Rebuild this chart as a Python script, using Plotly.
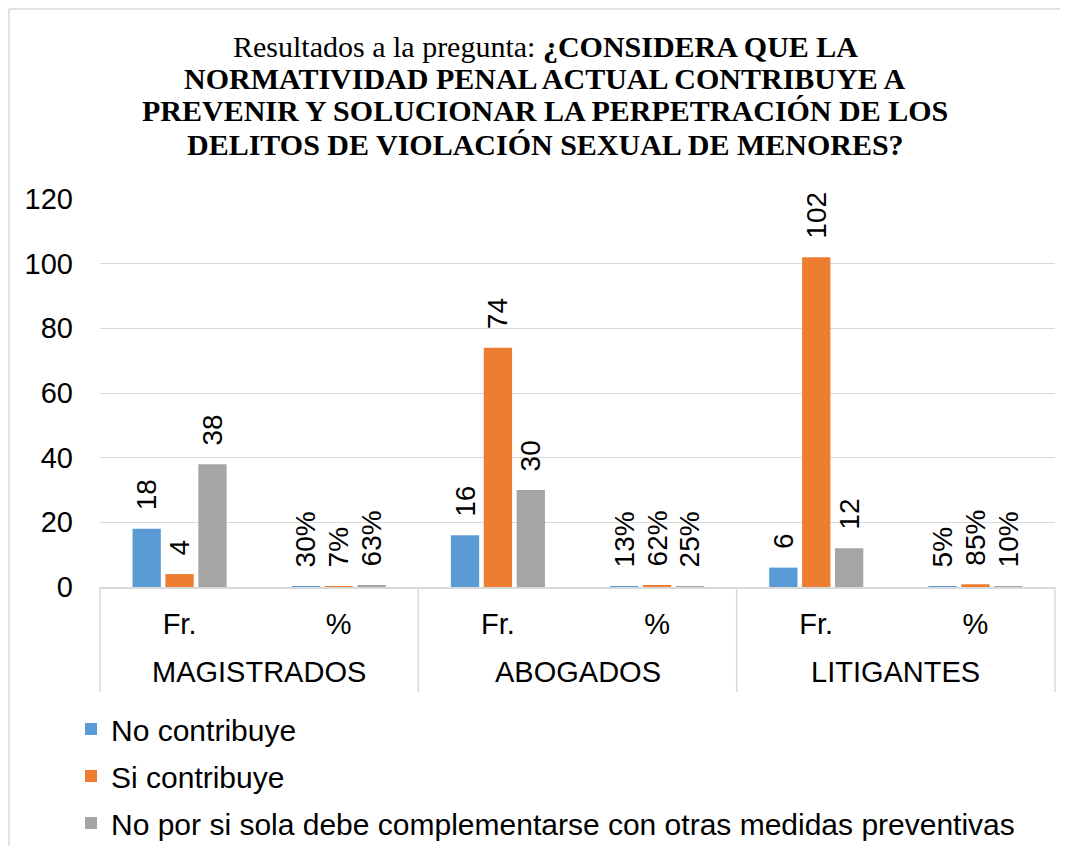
import plotly.graph_objects as go

groups = ["MAGISTRADOS", "MAGISTRADOS", "ABOGADOS", "ABOGADOS", "LITIGANTES", "LITIGANTES"]
subcats = ["Fr.", "%", "Fr.", "%", "Fr.", "%"]

series_names = [
    "No contribuye",
    "Si contribuye",
    "No por si sola debe complementarse con otras medidas preventivas",
]
no_contribuye = [18, 0.30, 16, 0.13, 6, 0.05]
si_contribuye = [4, 0.07, 74, 0.62, 102, 0.85]
no_por_si_sola = [38, 0.63, 30, 0.25, 12, 0.10]
colors = ["#5B9BD5", "#ED7D31", "#A5A5A5"]

y_ticks = [0, 20, 40, 60, 80, 100, 120]

title_lines = [
    "Resultados a la pregunta: <b>¿CONSIDERA QUE LA</b>",
    "<b>NORMATIVIDAD PENAL ACTUAL CONTRIBUYE A</b>",
    "<b>PREVENIR Y SOLUCIONAR LA PERPETRACIÓN DE LOS</b>",
    "<b>DELITOS DE VIOLACIÓN SEXUAL DE MENORES?</b>",
]

# the page body adds an 8px margin on each side; work in page coords and convert
OFF = 8
W, H = 1068 - 2 * OFF, 854 - 2 * OFF
PL, PR, PT, PB = 100, 1055, 199, 587  # plot area in page pixels
L, R, T, B = PL - OFF, W - (PR - OFF), PT - OFF, H - (PB - OFF)
pw, ph = W - L - R, H - T - B


def px_x(x):
    return (x - OFF - L) / pw


def px_y(y):
    return 1 + (T - (y - OFF)) / ph


NB = "\u00a0\u00a0"


def fmt(sub, v):
    return NB + (f"{round(v * 100)}%" if sub == "%" else f"{v:g}")


# category positions on the x axis
pos = list(range(len(subcats)))
group_names = list(dict.fromkeys(groups))
group_centers = [sum(p for p, g in zip(pos, groups) if g == name) / groups.count(name) for name in group_names]
inner_bounds = [p - 0.5 for p in pos[1:] if groups[p] != groups[p - 1]]

FONT = "Liberation Sans, Arial"
GRID = "#D9D9D9"
fig = go.Figure()
for i, (name, vals) in enumerate(zip(series_names, [no_contribuye, si_contribuye, no_por_si_sola])):
    fig.add_trace(go.Bar(
        name=name,
        x=pos,
        y=vals,
        marker=dict(color=colors[i], line=dict(width=0)),
        text=[fmt(s, v) for s, v in zip(subcats, vals)],
        textposition="outside",
        textangle=-90,
        textfont=dict(family=FONT, size=28, color="#000000"),
        constraintext="none",
        cliponaxis=False,
        legendgroup=f"g{i}",
        hovertemplate="%{y}<extra>" + name + "</extra>",
    ))

annotations = []
for line, yc in zip(title_lines, [46, 78, 111, 144]):
    annotations.append(dict(
        text=line, xref="paper", yref="paper", x=px_x(545), y=px_y(yc),
        xanchor="center", yanchor="middle", showarrow=False,
        font=dict(family="Liberation Serif, Times New Roman", size=30, color="#000000"),
    ))
for name, xc in zip(group_names, group_centers):
    annotations.append(dict(
        text=name, xref="x", yref="paper", x=xc, y=px_y(672),
        xanchor="center", yanchor="middle", showarrow=False,
        font=dict(family=FONT, size=29, color="#000000"),
    ))

shapes = [
    dict(type="line", xref="paper", yref="paper",
         x0=px_x(9), x1=px_x(1068), y0=px_y(9), y1=px_y(9),
         line=dict(color=GRID, width=1.5)),
    dict(type="line", xref="paper", yref="paper",
         x0=px_x(9), x1=px_x(9), y0=px_y(9), y1=px_y(854),
         line=dict(color=GRID, width=1.5)),
]
for xe in [0, 1]:
    shapes.append(dict(type="line", xref="paper", yref="paper",
                       x0=xe, x1=xe, y0=0, y1=px_y(692),
                       line=dict(color=GRID, width=1.5)))
for xb in inner_bounds:
    shapes.append(dict(type="line", xref="x", yref="paper",
                       x0=xb, x1=xb, y0=0, y1=px_y(692),
                       line=dict(color=GRID, width=1.5)))

fig.update_layout(
    width=W, height=H,
    margin=dict(l=L, r=R, t=T, b=B, autoexpand=False),
    paper_bgcolor="white",
    plot_bgcolor="white",
    barmode="group",
    bargap=0.38,
    bargroupgap=0.14,
    font=dict(family=FONT, size=29, color="#000000"),
    showlegend=True,
    legend=dict(
        x=px_x(63 + OFF), y=px_y(703), xanchor="left", yanchor="top",
        orientation="v", traceorder="grouped", tracegroupgap=5,
        font=dict(size=30, color="#000000"),
        bgcolor="rgba(0,0,0,0)",
    ),
    yaxis=dict(
        range=[0, 120],
        tickvals=y_ticks,
        showgrid=True, gridcolor=GRID, gridwidth=1,
        zeroline=False, showline=False,
        ticklabelstandoff=26,
        tickfont=dict(size=29),
    ),
    xaxis=dict(
        type="linear",
        range=[pos[0] - 0.5, pos[-1] + 0.5],
        tickvals=pos, ticktext=subcats,
        showgrid=False, zeroline=False,
        showline=True, linecolor=GRID, linewidth=1.5,
        ticks="",
        ticklabelstandoff=10,
        tickfont=dict(size=29),
    ),
    annotations=annotations,
    shapes=shapes,
)

fig.write_html("out.html")
